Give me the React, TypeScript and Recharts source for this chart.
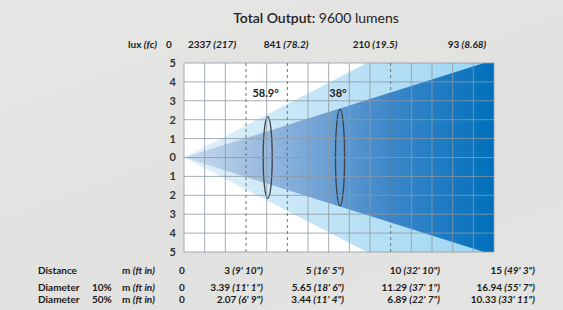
import React from "react";
import {
  ComposedChart,
  Area,
  XAxis,
  YAxis,
  CartesianGrid,
  ReferenceLine,
  ReferenceArea,
  ReferenceDot,
} from "recharts";

// distances (m) and beam diameters (m) from the photometric table
const distances = [0, 3, 5, 10, 15];
const diameter10 = [0, 3.39, 5.65, 11.29, 16.94];
const diameter50 = [0, 2.07, 3.44, 6.89, 10.33];

const distanceFt = ["", "9' 10\"", "16' 5\"", "32' 10\"", "49' 3\""];
const diameter10Ft = ["", "11' 1\"", "18' 6\"", "37' 1\"", "55' 7\""];
const diameter50Ft = ["", "6' 9\"", "11' 4\"", "22' 7\"", "33' 11\""];

const luxValues = ["0", "2337", "841", "210", "93"];
const fcValues = ["", "217", "78.2", "19.5", "8.68"];

const markedDistances = [3, 5, 10];
const angleMarks = [
  { label: "58.9°", at: 4.05, half: 2.16 },
  { label: "38°", at: 7.55, half: 2.56 },
];

const gridX = Array.from({ length: 16 }, (_, i) => i);
const gridY = [-5, -4, -3, -2, -1, 0, 1, 2, 3, 4, 5];

const data = distances.map((d, i) => ({
  d,
  wide: [-diameter10[i] / 2, diameter10[i] / 2],
  narrow: [-diameter50[i] / 2, diameter50[i] / 2],
}));

const FONT = "Lato, 'Open Sans', sans-serif";

// column anchors for the text rows (px)
const luxCols = [169, 212, 286, 375, 467];
const tableCols = [182, 263, 344, 440, 535];

function Cell({ x, y, main, sub, align }: { x: number; y: number; main: string; sub?: string; align: "center" | "right" }) {
  const style: React.CSSProperties = {
    position: "absolute",
    top: y - 7,
    whiteSpace: "nowrap",
    fontWeight: 700,
    fontSize: 10,
    lineHeight: "14px",
  };
  if (align === "right") {
    style.right = 563 - x;
  } else {
    style.left = x;
    style.transform = "translateX(-50%)";
  }
  return (
    <div style={style}>
      {main}
      {sub ? <i> ({sub})</i> : null}
    </div>
  );
}

function TableRow({ y, title, pct, values, ft }: { y: number; title: string; pct?: string; values: number[]; ft: string[] }) {
  const base: React.CSSProperties = { position: "absolute", top: y - 7, fontWeight: 700, fontSize: 10, lineHeight: "14px" };
  return (
    <>
      <div style={{ ...base, left: 38 }}>{title}</div>
      {pct ? <div style={{ ...base, left: 92 }}>{pct}</div> : null}
      <div style={{ ...base, left: 122 }}>
        m <i>(ft in)</i>
      </div>
      {values.map((v, i) => (
        <Cell key={i} x={tableCols[i]} y={y} main={String(v)} sub={ft[i]} align={i === 0 ? "center" : "right"} />
      ))}
    </>
  );
}

export default function App() {
  return (
    <div
      style={{
        position: "fixed",
        left: 0,
        top: 0,
        width: 563,
        height: 310,
        overflow: "hidden",
        background: "linear-gradient(160deg, #e6e6e4 0%, #e1e1df 60%, #e4e4e2 100%)",
        fontFamily: FONT,
        color: "#1a1a1a",
      }}
    >
      <div style={{ position: "absolute", left: 0, width: 632, top: 9, textAlign: "center", fontSize: 14, lineHeight: "18px", color: "#222" }}>
        <span style={{ fontWeight: 600 }}>Total Output:</span> 9600 lumens
      </div>

      <div style={{ position: "absolute", left: 128, top: 37, fontWeight: 700, fontSize: 10, lineHeight: "14px" }}>
        lux <i>(fc)</i>
      </div>
      {luxValues.map((v, i) => (
        <Cell key={i} x={luxCols[i]} y={44} main={v} sub={fcValues[i]} align="center" />
      ))}

      <div style={{ position: "absolute", left: 0, top: 0 }}>
        <ComposedChart width={563} height={310} data={data} margin={{ top: 63, right: 69, bottom: 58, left: 154 }}>
          <defs>
            <linearGradient id="wideFill" x1="0" y1="0" x2="1" y2="0">
              <stop offset="0%" stopColor="#e2f1fa" />
              <stop offset="100%" stopColor="#9bd5f2" />
            </linearGradient>
            <linearGradient id="narrowFill" x1="0" y1="0" x2="1" y2="0">
              <stop offset="0%" stopColor="#cbdcee" />
              <stop offset="30%" stopColor="#8fb4dd" />
              <stop offset="65%" stopColor="#3f88c9" />
              <stop offset="100%" stopColor="#0070bc" />
            </linearGradient>
          </defs>
          <CartesianGrid fill="#ffffff" horizontal={false} vertical={false} />
          <XAxis
            dataKey="d"
            type="number"
            domain={[0, 15]}
            ticks={gridX}
            tick={false}
            axisLine={false}
            tickLine={false}
            height={0}
            allowDataOverflow
          />
          <YAxis
            type="number"
            domain={[-5, 5]}
            ticks={gridY}
            width={30}
            allowDataOverflow
            axisLine={false}
            tickLine={false}
            tickSize={0}
            tickMargin={8}
            tickFormatter={(v: number) => String(Math.abs(v))}
            tick={{ fill: "#333", fontSize: 11, fontWeight: 700, fontFamily: FONT }}
          />
          <Area
            type="linear"
            dataKey="wide"
            stroke="none"
            fill="url(#wideFill)"
            fillOpacity={1}
            isAnimationActive={false}
            activeDot={false}
          />
          <Area
            type="linear"
            dataKey="narrow"
            stroke="none"
            fill="url(#narrowFill)"
            fillOpacity={1}
            isAnimationActive={false}
            activeDot={false}
          />
          {gridX
            .filter((x) => !markedDistances.includes(x))
            .map((x) => (
              <ReferenceLine key={"gx" + x} x={x} stroke="#8e98a2" strokeOpacity={0.8} strokeWidth={1} />
            ))}
          {gridY.map((y) => (
            <ReferenceLine key={"gy" + y} y={y} stroke="#8e98a2" strokeOpacity={0.8} strokeWidth={1} />
          ))}
          {markedDistances.map((m) => (
            <ReferenceLine key={m} x={m} stroke="#6e7378" strokeDasharray="3 3" strokeWidth={1} />
          ))}
          {angleMarks.map((a) => (
            <ReferenceArea
              key={a.label}
              x1={a.at - 0.22}
              x2={a.at + 0.22}
              y1={-a.half}
              y2={a.half}
              shape={(p: any) => (
                <ellipse
                  cx={p.x + p.width / 2}
                  cy={p.y + p.height / 2}
                  rx={Math.abs(p.width) / 2}
                  ry={Math.abs(p.height) / 2}
                  fill="none"
                  stroke="#3d4248"
                  strokeWidth={1.3}
                />
              )}
            />
          ))}
          {angleMarks.map((a) => (
            <ReferenceDot
              key={"l" + a.label}
              x={a.at - 0.1}
              y={3.4}
              r={0}
              fill="none"
              stroke="none"
              label={{ value: a.label, position: "center", fill: "#222", fontSize: 11, fontWeight: 700, fontFamily: FONT }}
            />
          ))}
        </ComposedChart>
      </div>

      <TableRow y={270} title="Distance" values={distances} ft={distanceFt} />
      <TableRow y={287} title="Diameter" pct="10%" values={diameter10} ft={diameter10Ft} />
      <TableRow y={299} title="Diameter" pct="50%" values={diameter50} ft={diameter50Ft} />
    </div>
  );
}
